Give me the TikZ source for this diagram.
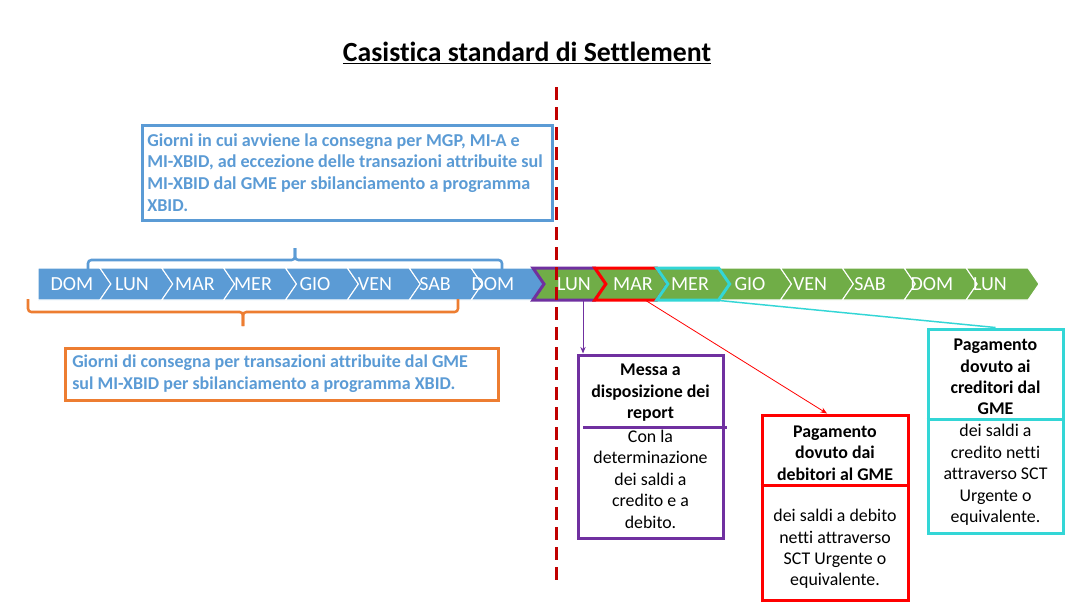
\documentclass[tikz,border=0pt]{standalone}
\usepackage{fontspec}
\setmainfont{Carlito}[Ligatures={NoCommon}]
\usetikzlibrary{arrows.meta,calc}
\definecolor{obl}{HTML}{5B9BD5}
\definecolor{ogr}{HTML}{70AD47}
\definecolor{oor}{HTML}{ED7D31}
\definecolor{opu}{HTML}{7030A0}
\definecolor{ored}{HTML}{FF0000}
\definecolor{ocy}{HTML}{33D6D6}
\definecolor{odr}{HTML}{C00000}
\tikzset{
  day/.style={text=white,font=\fontsize{15}{16}\selectfont,inner sep=0pt,anchor=base},
  boxb/.style={font=\fontsize{13.4}{16.1}\selectfont\bfseries,inner sep=0pt},
  boxr/.style={font=\fontsize{13.4}{16.1}\selectfont,inner sep=0pt},
  frame/.style={draw=#1,line width=2.25pt,inner sep=0pt},
  brk/.style={draw=#1,line width=1.9pt,rounded corners=2.5pt},
  hiChev/.style={fill=ogr,draw=#1,line width=2.25pt,line join=miter},
}
\begin{document}
\begin{tikzpicture}[x=0.75pt,y=-0.75pt]
\useasboundingbox[fill=white] (0,0) rectangle (1080,608);

% title
\node[font=\fontsize{20.8}{24}\selectfont\bfseries,inner sep=0pt] (title) at (527,53) {\underline{Casistica standard di Settlement}};

% chevron bar
\foreach \i in {0,...,15}{
  \pgfmathsetmacro\xa{38+61.875*\i}
  \pgfmathsetmacro\xb{38+61.875*(\i+1)}
  \pgfmathsetmacro\nn{\i==0 ? 0 : 11}
  \ifnum\i<8 \def\cc{obl}\else\def\cc{ogr}\fi
  \path[fill=\cc,draw=white,line width=0.8pt,line join=miter] (\xa,268) -- (\xb,268) -- (\xb+11,284) -- (\xb,300) -- (\xa,300) -- (\xa+\nn,284) -- cycle;
}
% highlighted chevrons
\path[hiChev=opu] (533,268) -- (594.875,268) -- (605.875,284) -- (594.875,300) -- (533,300) -- (544,284) -- cycle;
\path[hiChev=ored] (594.875,268) -- (656.75,268) -- (667.75,284) -- (656.75,300) -- (594.875,300) -- (605.875,284) -- cycle;
\path[hiChev=ocy] (656.75,268) -- (718.625,268) -- (729.625,284) -- (718.625,300) -- (656.75,300) -- (667.75,284) -- cycle;

% day labels
\foreach \x/\t [count=\k] in {72/DOM,132/LUN,195/MAR,253/MER,315/GIO,375/VEN,435/SAB,493/DOM,574/LUN,633/MAR,690/MER,750/GIO,810/VEN,870/SAB,932/DOM,990/LUN}{
  \node[day] (d\k) at (\x,290.5) {\t};
}

% blue bracket and box
\draw[brk=obl] (88,269) -- (88,260) -- (295,260) -- (295,248);
\draw[brk=obl] (295,248) -- (295,260) -- (502,260) -- (502,269);
\node[frame=obl,minimum width=307.5pt,minimum height=71.25pt] (bbox) at (347,172.5) {};
\node[boxb,font=\fontsize{13.6}{16.3}\selectfont\bfseries,text=obl,anchor=west,align=left] (btext) at (147,172.5) {Giorni in cui avviene la consegna per MGP, MI-A e\\MI-XBID, ad eccezione delle transazioni attribuite sul\\MI-XBID dal GME per sbilanciamento a programma\\XBID.};

% orange bracket and box
\draw[brk=oor] (28,299) -- (28,312) -- (243,312) -- (243,326);
\draw[brk=oor] (243,326) -- (243,312) -- (458,312) -- (458,299);
\node[frame=oor,minimum width=324.75pt,minimum height=39pt] (obox) at (281.5,374) {};
\node[boxb,font=\fontsize{13.5}{16.3}\selectfont\bfseries,text=obl,anchor=west,align=left] (otext) at (72,374) {Giorni di consegna per transazioni attribuite dal GME\\sul MI-XBID per sbilanciamento a programma XBID.};

% dashed separator
\coordinate (sepT) at (556,87);
\coordinate (sepB) at (556,584);
\draw[odr,line width=2.25pt,dash pattern=on 9.75pt off 5.25pt] (sepT) -- (sepB);

% purple box
\node[frame=opu,minimum width=108.75pt,minimum height=137.25pt] (pbox) at (650.5,446.5) {};
\draw[opu,line width=2.25pt] (583,427) -- (727,427);
\node[boxb,align=center] (ptitle) at (650.5,393) {Messa a\\disposizione dei\\report};
\node[boxr,align=center] (pbody) at (650.5,479) {Con la\\determinazione\\dei saldi a\\credito e a\\debito.};

% red box
\node[frame=ored,minimum width=109.5pt,minimum height=138.75pt] (rbox) at (835,507.5) {};
\draw[ored,line width=2.25pt] (rbox.west |- 0,485) -- (rbox.east |- 0,485);
\node[boxb,align=center] (rtitle) at (835,453) {Pagamento\\dovuto dai\\debitori al GME};
\node[boxr,align=center] (rbody) at (835,549) {dei saldi a debito\\netti attraverso\\SCT Urgente o\\equivalente.};

% cyan box
\node[frame=ocy,minimum width=101.25pt,minimum height=153pt] (cbox) at (995.5,431) {};
\draw[ocy,line width=2.25pt] (cbox.west |- 0,419) -- (cbox.east |- 0,419);
\node[boxb,align=center] (ctitle) at (995.5,377) {Pagamento\\dovuto ai\\creditori dal\\GME};
\node[boxr,align=center] (cbody) at (995.5,475) {dei saldi a\\credito netti\\attraverso SCT\\Urgente o\\equivalente.};

% connectors
\coordinate (lunB) at (583,300);
\coordinate (marB) at (645,300);
\coordinate (merB) at (714,300);
\draw[opu,line width=0.75pt,-{Stealth[length=5pt,width=4pt]}] (lunB) -- (pbox.north -| lunB);
\draw[ored,line width=0.6pt,-{Stealth[length=5pt,width=4pt]}] (marB) -- ([xshift=-6pt]rbox.north);
\draw[ocy,line width=1.1pt] (merB) -- (cbox.north);
\end{tikzpicture}
\end{document}
